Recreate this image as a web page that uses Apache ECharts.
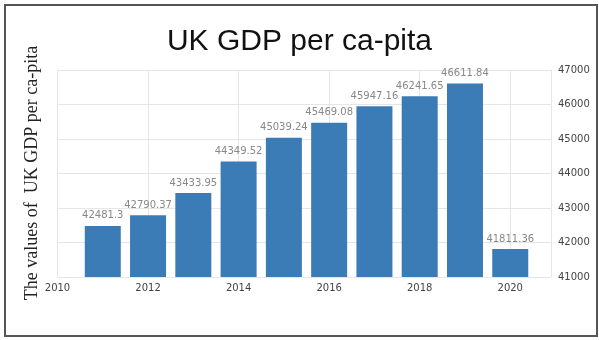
<!DOCTYPE html>
<html><head><meta charset="utf-8">
<script src="https://cdn.jsdelivr.net/npm/echarts@6/dist/echarts.min.js"></script>
<style>html,body{margin:0;padding:0;background:#fff}#c{width:599px;height:340px}</style>
</head><body><div id="c"></div>
<script>
const years = [2011, 2012, 2013, 2014, 2015, 2016, 2017, 2018, 2019, 2020];
const gdpValues = [42481.3, 42790.37, 43433.95, 44349.52, 45039.24, 45469.08, 45947.16, 46241.65, 46611.84, 41811.36];
const titleText = "UK GDP per ca-pita";
const yAxisTitle = "The values of  UK GDP per ca-pita";

const chart = echarts.init(document.getElementById('c'), null, {renderer: 'canvas'});
chart.setOption({
  animation: false,
  backgroundColor: '#fff',
  title: {
    text: titleText, left: 'center', top: 22,
    textStyle: {fontFamily: 'Liberation Sans, Arial', fontSize: 30, fontWeight: 'normal', color: '#111'}
  },
  graphic: [
    {type: 'rect', shape: {x: 5, y: 5, width: 592, height: 331},
     style: {fill: 'none', stroke: '#555', lineWidth: 2}, z: 100},
    {type: 'text', x: 32, y: 173, rotation: Math.PI / 2,
     style: {text: yAxisTitle, font: '18px "Liberation Serif", "DejaVu Serif", serif', fill: '#222',
             textAlign: 'center', textVerticalAlign: 'middle'}}
  ],
  grid: {left: 57.5, right: 48, top: 70, bottom: 63},
  xAxis: {
    type: 'value', min: 2010, max: 2020.9, interval: 2,
    axisLine: {show: false}, axisTick: {show: false},
    splitLine: {show: true, lineStyle: {color: '#e6e6e6'}},
    axisLabel: {showMaxLabel: false, color: '#444', fontSize: 10, margin: 6, fontFamily: 'DejaVu Sans',
                formatter: v => String(v)}
  },
  yAxis: {
    type: 'value', position: 'right', min: 41000, max: 47000, interval: 1000,
    axisLine: {show: false}, axisTick: {show: false},
    splitLine: {show: true, lineStyle: {color: '#e6e6e6'}},
    axisLabel: {color: '#444', fontSize: 10, margin: 7, fontFamily: 'DejaVu Sans',
                formatter: v => String(v)}
  },
  series: [{
    type: 'bar', barWidth: 36,
    data: years.map((y, i) => [y, gdpValues[i]]),
    itemStyle: {color: '#3b7cb6'},
    label: {show: true, position: 'top', color: '#888', fontSize: 10, distance: 5,
            fontFamily: 'DejaVu Sans',
            formatter: p => String(p.value[1])}
  }]
});
</script></body></html>
